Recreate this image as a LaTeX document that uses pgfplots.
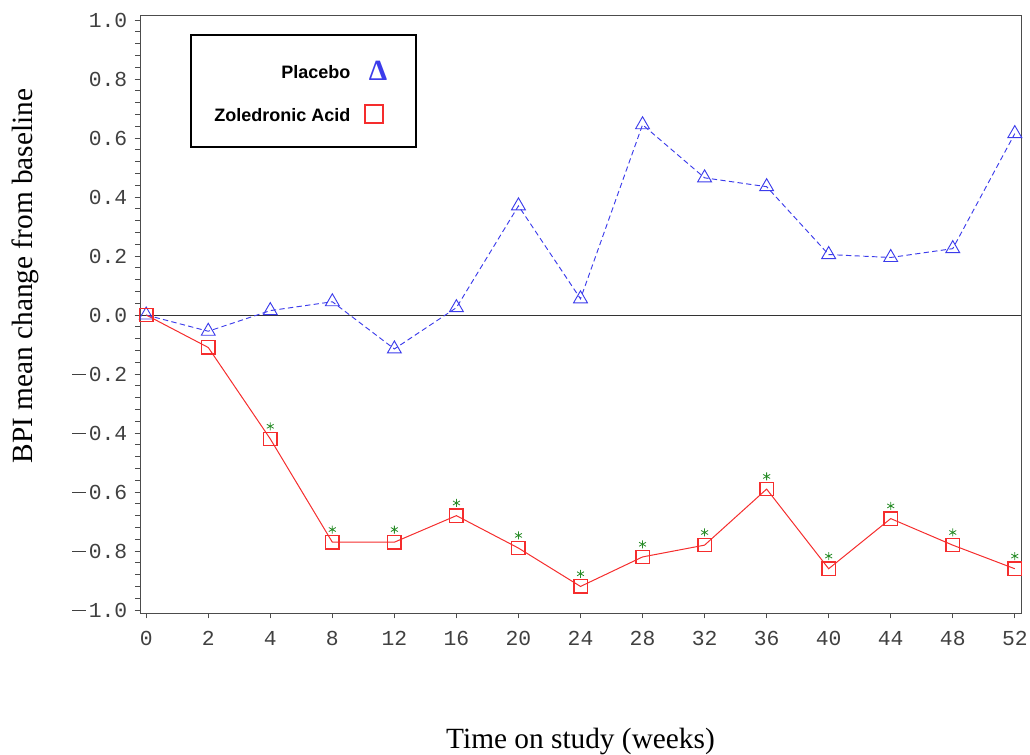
\documentclass[border=0pt]{standalone}
\usepackage{pgfplots}
\pgfplotsset{compat=1.18}
\usepackage{fontspec}
\setmainfont{Liberation Serif}
\newfontfamily\arialb{Liberation Sans}
\newfontfamily\cour{Liberation Mono}
\definecolor{pblue}{RGB}{60,60,235}
\definecolor{zred}{RGB}{245,45,45}
\definecolor{sgreen}{RGB}{40,140,40}
\newcommand\mn{\rule[4.6pt]{10.5pt}{0.75pt}\hspace{2pt}}
\begin{document}
\begin{tikzpicture}
\useasboundingbox (-105pt,-106.5pt) rectangle (667.5pt,459.75pt);
\begin{axis}[
  at={(0,0)}, anchor=south west,
  width=660.75pt, height=448.5pt, scale only axis,
  xmin=-0.1, xmax=14.1, ymin=-1.01, ymax=1.017,
  xtick={0,...,14},
  xticklabels={0,2,4,8,12,16,20,24,28,32,36,40,44,48,52},
  ytick={-1,-0.8,-0.6,-0.4,-0.2,0,0.2,0.4,0.6,0.8,1.0},
  yticklabels={\mn1.0,\mn0.8,\mn0.6,\mn0.4,\mn0.2,0.0,0.2,0.4,0.6,0.8,1.0},
  minor y tick num=4,
  ticklabel style={font=\cour\fontsize{16}{18}\selectfont, text=black!75},
  yticklabel style={xshift=-2pt},
  xticklabel style={yshift=-6pt},
  tick align=outside,
  major tick length=4pt, minor tick length=3.5pt,
  tick style={black!70, line width=0.6pt},
  axis line style={black!70, line width=0.7pt},
  xtick pos=bottom, ytick pos=left,
  clip=false,
]
\addplot[black!80, line width=0.6pt, forget plot] coordinates {(-0.1,0) (14.1,0)};
\addplot[pblue, dashed, line width=0.7pt, dash pattern=on 4pt off 2.5pt,
  mark=triangle, mark size=6pt, mark options={solid, draw=pblue, line width=0.7pt}]
 coordinates {
 (0,0) (1,-0.055) (2,0.015) (3,0.045) (4,-0.115) (5,0.025) (6,0.37)
 (7,0.055) (8,0.645) (9,0.465) (10,0.435) (11,0.205) (12,0.195) (13,0.225) (14,0.615)};
\addplot[color=zred, line width=0.75pt, mark=square, mark size=5pt, mark options={solid, color=zred, line width=1pt}]
 coordinates {
 (0,0) (1,-0.11) (2,-0.42) (3,-0.77) (4,-0.77) (5,-0.68) (6,-0.79)
 (7,-0.92) (8,-0.82) (9,-0.78) (10,-0.59) (11,-0.86) (12,-0.69) (13,-0.78) (14,-0.86)};
\addplot[sgreen, only marks, mark=asterisk, mark size=3pt, mark options={yshift=9.5pt, draw=sgreen, line width=0.6pt}]
 coordinates {
 (2,-0.42) (3,-0.77) (4,-0.77) (5,-0.68) (6,-0.79)
 (7,-0.92) (8,-0.82) (9,-0.78) (10,-0.59) (11,-0.86) (12,-0.69) (13,-0.78) (14,-0.86)};
\end{axis}
% legend
\draw[black, line width=1.5pt] (38.25pt,433.5pt) rectangle (207pt,349.5pt);
\node[anchor=east, font=\arialb\bfseries\fontsize{13.5}{15}\selectfont] at (161.25pt,405.75pt) {Placebo};
\node[font=\fontsize{22}{24}\selectfont\bfseries, text=pblue] at (178.5pt,406.5pt) {Δ};
\node[anchor=east, font=\arialb\bfseries\fontsize{13.5}{15}\selectfont] at (161.25pt,373.5pt) {Zoledronic Acid};
\draw[zred, line width=1.3pt] (168.5pt,367.25pt) rectangle (182.5pt,381.25pt);
% axis labels
\node[rotate=90, font=\fontsize{22}{24}\selectfont] at (-86.25pt,252.75pt) {BPI mean change from baseline};
\node[font=\fontsize{22}{24}\selectfont] at (330.4pt,-96pt) {Time on study (weeks)};
\end{tikzpicture}
\end{document}
